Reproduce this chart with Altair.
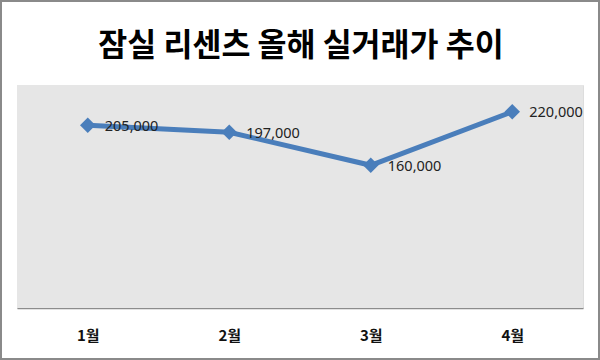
import altair as alt
import pandas as pd

title_text = "잠실 리센츠 올해 실거래가 추이"
months = ["1월", "2월", "3월", "4월"]
prices = [205000, 197000, 160000, 220000]
labels = ["205,000", "197,000", "160,000", "220,000"]

df = pd.DataFrame({"month": months, "price": prices, "label": labels})

W, H = 566, 223
FONT = "Noto Sans CJK KR"
BLUE = "#4a7ebb"

x = alt.X("month:O", sort=months,
          axis=alt.Axis(title=None, labelAngle=0, ticks=False, domainColor="#8c8c8c",
                        domainWidth=1.5, labelFont=FONT, labelFontSize=15, labelFontWeight="bold",
                        labelColor="#111", labelPadding=20))
y = alt.Y("price:Q", scale=alt.Scale(domain=[0, 250000], nice=False), axis=None)

base = alt.Chart(df)
one = pd.DataFrame({"t": [title_text]})

bg = alt.Chart(one).mark_rect(fill="#e6e6e6", stroke=None).encode(
    x=alt.value(0), x2=alt.value(W), y=alt.value(0), y2=alt.value(H))

border = alt.Chart(one).mark_rect(
    fill="transparent", stroke="#8a8a8a", strokeWidth=2, clip=False
).encode(x=alt.value(-16), x2=alt.value(W + 16), y=alt.value(-84), y2=alt.value(H + 51))

title = alt.Chart(one).mark_text(font=FONT, fontSize=31.5, fontWeight="bold", color="#000",
                                 align="center", baseline="middle").encode(
    x=alt.value(W / 2 + 1), y=alt.value(-38), text="t:N")

line = base.mark_line(color=BLUE, strokeWidth=5).encode(x=x, y=y)
pts = base.mark_point(shape="diamond", filled=True, color=BLUE, size=240, opacity=1).encode(x=x, y=y)
txt = base.mark_text(align="left", baseline="middle", dx=17, dy=1.5, font="Noto Sans",
                     fontSize=14.5, color="#222").encode(x=x, y=y, text="label:N")

chart = alt.layer(bg, line, pts, txt, border, title).properties(
    width=W, height=H,
    padding={"left": 17, "top": 85, "right": 17, "bottom": 52},
    autosize=alt.AutoSizeParams(type="none"),
).configure_view(stroke=None).configure(background="white")

chart.save("out.html", embed_options={"renderer": "svg", "actions": False})
